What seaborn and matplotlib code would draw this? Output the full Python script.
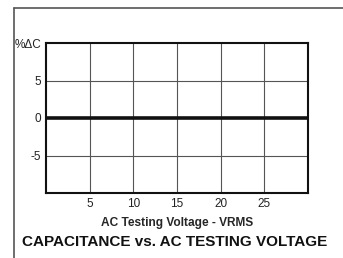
import matplotlib
matplotlib.use('Agg')
import matplotlib.pyplot as plt
import seaborn as sns
import pandas as pd
from matplotlib.lines import Line2D

# Data: capacitance change stays flat at 0 %
voltage = [0, 5, 10, 15, 20, 25, 30]
delta_c = [0, 0, 0, 0, 0, 0, 0]
x_ticks = [5, 10, 15, 20, 25]
y_ticks = [-5, 0, 5, 10]
y_tick_labels = ['-5', '0', '5', '%ΔC']

df = pd.DataFrame({'voltage': voltage, 'delta_c': delta_c})

sns.set_style('white')
plt.rcParams['font.family'] = ['Liberation Sans', 'DejaVu Sans']

fig = plt.figure(figsize=(3.43, 2.58), dpi=100)
ax = fig.add_axes([46 / 343, 1 - 193 / 258, 262 / 343, 150 / 258])

# grid
for x in x_ticks:
    ax.axvline(x, color='#555555', lw=0.8, zorder=1)
for y in [-5, 5]:
    ax.axhline(y, color='#555555', lw=0.8, zorder=1)

sns.lineplot(data=df, x='voltage', y='delta_c', color='#111111', lw=2.6, ax=ax, zorder=3)

ax.set_xlim(0, 30)
ax.set_ylim(-10, 10)
ax.set_xticks(x_ticks)
ax.set_xticklabels([str(t) for t in x_ticks], fontsize=8.5)
ax.set_yticks(y_ticks)
ax.set_yticklabels(y_tick_labels, fontsize=8.5)
ax.tick_params(length=0, pad=3.5, colors='#222222')
ax.set_xlabel('AC Testing Voltage - VRMS', fontsize=8.6, fontweight='bold', labelpad=5)
ax.set_ylabel('')
for side in ['left', 'bottom', 'top', 'right']:
    ax.spines[side].set_visible(True)
    ax.spines[side].set_color('#111111')
    ax.spines[side].set_linewidth(1.5)

fig.text(0.51, 1 - 242 / 258, 'CAPACITANCE vs. AC TESTING VOLTAGE', ha='center', va='center',
         fontsize=11, fontweight='bold', color='#111111')

# page frame lines (left and top)
fig.add_artist(Line2D([14 / 343, 14 / 343], [0, 1 - 8 / 258], transform=fig.transFigure, color='#555555', lw=1.2))
fig.add_artist(Line2D([14 / 343, 1], [1 - 8 / 258, 1 - 8 / 258], transform=fig.transFigure, color='#555555', lw=1.2))

fig.savefig('out.png', dpi=100)
